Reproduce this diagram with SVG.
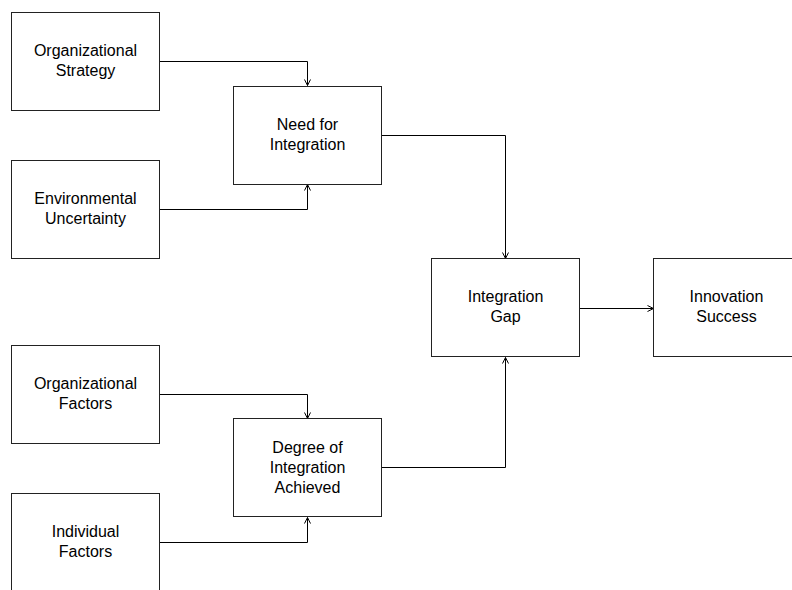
<svg xmlns="http://www.w3.org/2000/svg" width="792" height="590" viewBox="0 0 792 590">
<defs>
<style>
.box{fill:#fff;stroke:#222;stroke-width:1}
.t{font-family:"Liberation Sans",Arial,sans-serif;font-size:16px;fill:#000;text-anchor:middle}
.c{fill:none;stroke:#000;stroke-width:1}
</style>
<marker id="a" markerWidth="10" markerHeight="10" refX="8" refY="5" orient="auto" markerUnits="userSpaceOnUse">
<polyline points="2,2 8,5 2,8" fill="none" stroke="#000" stroke-width="1"/>
</marker>
</defs>
<rect width="792" height="590" fill="#fff"/>
<g id="connectors">
<polyline class="c" points="160,61.5 307.5,61.5 307.5,85.5" marker-end="url(#a)"/>
<polyline class="c" points="160,209.5 307.5,209.5 307.5,184.5" marker-end="url(#a)"/>
<polyline class="c" points="381,135.5 505.5,135.5 505.5,258.5" marker-end="url(#a)"/>
<polyline class="c" points="160,394.5 307.5,394.5 307.5,418.5" marker-end="url(#a)"/>
<polyline class="c" points="160,542.5 307.5,542.5 307.5,517.5" marker-end="url(#a)"/>
<polyline class="c" points="381,467.5 505.5,467.5 505.5,357.5" marker-end="url(#a)"/>
<polyline class="c" points="580,308.5 653.5,308.5" marker-end="url(#a)"/>
</g>
<g id="org-strategy"><rect class="box" x="11.5" y="12.5" width="148" height="98"/><text class="t" x="85.5" y="56">Organizational</text><text class="t" x="85.5" y="76">Strategy</text></g>
<g id="env-uncertainty"><rect class="box" x="11.5" y="160.5" width="148" height="98"/><text class="t" x="85.5" y="204">Environmental</text><text class="t" x="85.5" y="224">Uncertainty</text></g>
<g id="need"><rect class="box" x="233.5" y="86.5" width="148" height="98"/><text class="t" x="307.5" y="130">Need for</text><text class="t" x="307.5" y="150">Integration</text></g>
<g id="org-factors"><rect class="box" x="11.5" y="345.5" width="148" height="98"/><text class="t" x="85.5" y="389">Organizational</text><text class="t" x="85.5" y="409">Factors</text></g>
<g id="individual"><rect class="box" x="11.5" y="493.5" width="148" height="98"/><text class="t" x="85.5" y="537">Individual</text><text class="t" x="85.5" y="557">Factors</text></g>
<g id="degree"><rect class="box" x="233.5" y="418.5" width="148" height="98"/><text class="t" x="307.5" y="453">Degree of</text><text class="t" x="307.5" y="473">Integration</text><text class="t" x="307.5" y="493">Achieved</text></g>
<g id="gap"><rect class="box" x="431.5" y="258.5" width="148" height="98"/><text class="t" x="505.5" y="302">Integration</text><text class="t" x="505.5" y="322">Gap</text></g>
<g id="innovation"><rect class="box" x="653.5" y="258.5" width="148" height="98"/><text class="t" x="726.5" y="302">Innovation</text><text class="t" x="726.5" y="322">Success</text></g>
</svg>
